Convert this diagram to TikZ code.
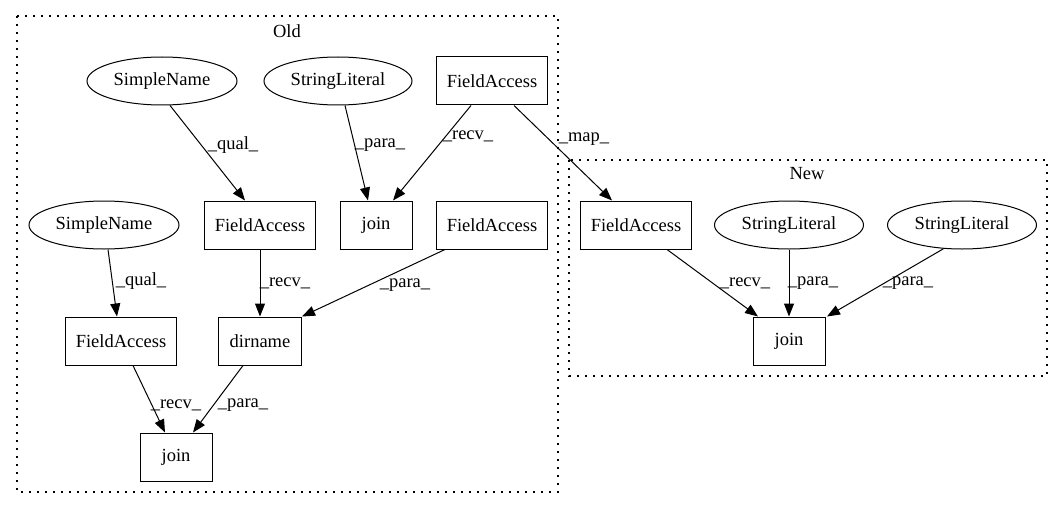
\documentclass[tikz,border=0pt]{standalone}
\usepackage{fontspec}
\setmainfont{Liberation Serif}
\usetikzlibrary{arrows.meta,shapes.geometric}
\begin{document}
\begin{tikzpicture}[x=1pt,y=-1pt,
  font=\fontsize{18.5}{20}\selectfont,
  every node/.style={inner sep=0pt},
  boxnode/.style={draw,line width=1pt,rectangle,minimum height=48pt},
  ellnode/.style={draw,line width=1pt,ellipse,minimum width=150pt,minimum height=48pt},
  cluster/.style={draw,line width=1.3pt,dash pattern=on 1.6pt off 6.4pt},
  edge/.style={line width=1pt,-{Triangle[length=13pt,width=10pt]}},
  lbl/.style={inner sep=0pt}
]
\useasboundingbox (0,0) rectangle (1064,508);
\fill[white] (0,0) rectangle (1064,508);

% clusters
\draw[cluster] (17,16) rectangle (558,492);
\node (oldlbl) at (287,31) {Old};
\draw[cluster] (569,160) rectangle (1047,376);
\node (newlbl) at (807,174) {New};

% Old nodes
\node[ellnode] (sn1) at (162,81) {SimpleName};
\node[ellnode,minimum width=148pt] (sl1) at (338,81) {StringLiteral};
\node[boxnode,minimum width=111pt] (fa1) at (492,81) {FieldAccess};
\node[ellnode] (sn2) at (104,225) {SimpleName};
\node[boxnode,minimum width=111pt] (fa2) at (260,225) {FieldAccess};
\node[boxnode,minimum width=72pt] (j1) at (376,225) {join};
\node[boxnode,minimum width=111pt] (fa3) at (492,225) {FieldAccess};
\node[boxnode,minimum width=111pt] (fa4) at (121,341) {FieldAccess};
\node[boxnode,minimum width=83pt] (dn) at (260,341) {dirname};
\node[boxnode,minimum width=72pt] (j2) at (176,457) {join};

% New nodes
\node[boxnode,minimum width=111pt] (faN) at (636,225) {FieldAccess};
\node[ellnode,minimum width=149pt] (slN1) at (789,225) {StringLiteral};
\node[ellnode,minimum width=149pt] (slN2) at (962,225) {StringLiteral};
\node[boxnode,minimum width=72pt] (jN) at (789,341) {join};

% edges
\draw[edge] (sn1.288) -- (fa2.north -| 245,0);
\draw[edge] (sl1.south -| 345,0) -- (j1.north -| 368,0);
\draw[edge] (fa1.south -| 471,0) -- (j1.north -| 393,0);
\draw[edge] (fa1.south -| 514,0) -- (faN.north -| 612,0);
\draw[edge] (sn2.south -| 108,0) -- (fa4.north -| 117,0);
\draw[edge] (fa2.south) -- (dn.north);
\draw[edge] (fa3.south -| 445,0) -- (dn.north east);
\draw[edge] (fa4.south -| 133,0) -- (j2.north -| 165,0);
\draw[edge] (dn.south -| 243,0) -- (j2.north -| 193,0);
\draw[edge] (faN.south -| 667,0) -- (jN.north -| 758,0);
\draw[edge] (slN1.south) -- (jN.north);
\draw[edge] (slN2.232) -- (jN.north -| 827,0);

% edge labels
\node[lbl] (l1) at (233,145) {\_qual\_};
\node[lbl] (l2) at (380,145) {\_para\_};
\node[lbl] (l3) at (468,136) {\_recv\_};
\node[lbl] (l4) at (584,139) {\_map\_};
\node[lbl] (l5) at (141,281) {\_qual\_};
\node[lbl] (l6) at (285,283) {\_recv\_};
\node[lbl] (l7) at (405,285) {\_para\_};
\node[lbl] (l8) at (176,405) {\_recv\_};
\node[lbl] (l9) at (243,405) {\_para\_};
\node[lbl] (l10) at (745,283) {\_recv\_};
\node[lbl] (l11) at (813,283) {\_para\_};
\node[lbl] (l12) at (908,283) {\_para\_};
\end{tikzpicture}
\end{document}
